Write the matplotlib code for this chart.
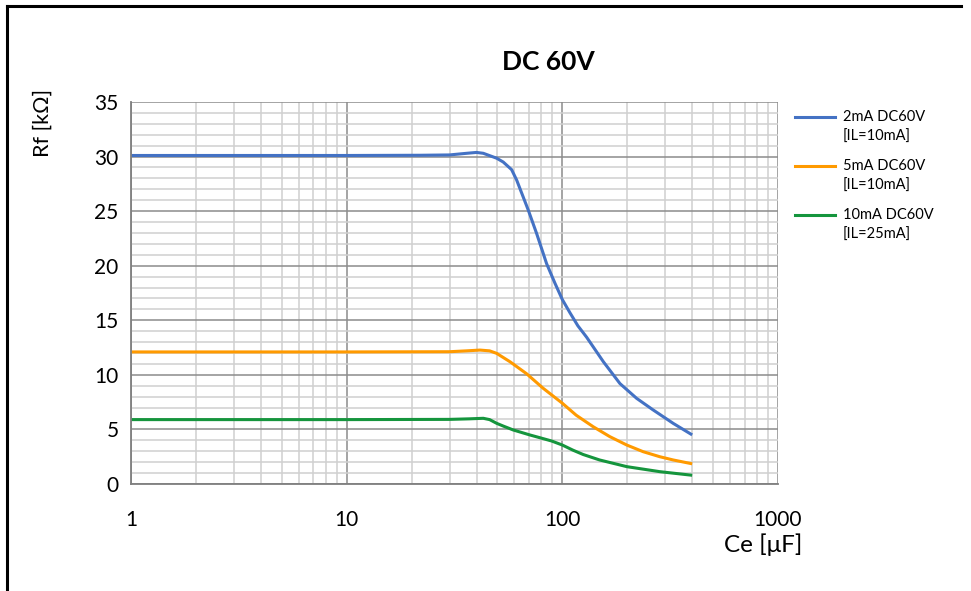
import matplotlib
matplotlib.use("Agg")
import matplotlib.pyplot as plt
from matplotlib.lines import Line2D
from matplotlib.ticker import FixedLocator, NullFormatter

plt.rcParams['font.family'] = ['Lato', 'DejaVu Sans']

# ---- data ----
ce_blue = [1, 10, 22, 30, 36, 40, 43, 49.6, 53.2, 58.2, 61.4, 69.5, 76, 84.5, 92.4,
           100, 108.4, 118, 129.6, 155, 185, 221, 263, 327, 400]
rf_blue = [30.1, 30.1, 30.12, 30.15, 30.3, 30.38, 30.3, 29.85, 29.5, 28.8, 27.85, 25.1,
           22.95, 20.2, 18.4, 16.9, 15.7, 14.5, 13.45, 11.2, 9.2, 7.85, 6.8, 5.55, 4.5]

ce_orange = [1, 10, 30, 36, 41.5, 46, 49.6, 57.2, 68.3, 81.5, 100, 116, 139, 166, 199,
             237, 283, 327, 400]
rf_orange = [12.1, 12.1, 12.12, 12.2, 12.27, 12.2, 11.97, 11.2, 10.1, 8.77, 7.4, 6.3,
             5.25, 4.34, 3.57, 2.96, 2.5, 2.2, 1.85]

ce_green = [1, 10, 30, 37, 43, 46, 49.6, 53.2, 59.2, 70.8, 78.7, 89.2, 100, 112, 125, 149,
            199, 283, 400]
rf_green = [5.9, 5.9, 5.92, 5.97, 6.02, 5.9, 5.56, 5.31, 4.95, 4.49, 4.24, 3.94, 3.57,
            3.1, 2.7, 2.2, 1.59, 1.13, 0.8]

series_labels = ["2mA DC60V\n[IL=10mA]", "5mA DC60V\n[IL=10mA]", "10mA DC60V\n[IL=25mA]"]
series_colors = ["#4472C4", "#FF9A00", "#15953D"]

x_ticks = [1, 10, 100, 1000]
x_tick_labels = ["1", "10", "100", "1000"]
y_ticks = [0, 5, 10, 15, 20, 25, 30, 35]

title = "DC 60V"
ylabel = "Rf [kΩ]"
xlabel = "Ce [μF]"

# ---- figure ----
W, H = 971, 591
fig = plt.figure(figsize=(W / 100, H / 100), dpi=100)
fig.patch.set_facecolor("white")

def fx(px):
    return px / W

def fy(py):
    return 1 - py / H

ax = fig.add_axes([fx(131), fy(484), fx(778) - fx(131), fy(102) - fy(484)])
ax.set_xscale("log")
ax.set_xlim(1, 1000)
ax.set_ylim(0, 35)

# grid
ax.set_xticks(x_ticks)
ax.set_xticklabels(x_tick_labels)
minor_x = [m * 10 ** d for d in range(3) for m in range(2, 10)]
ax.xaxis.set_minor_locator(FixedLocator(minor_x))
ax.xaxis.set_minor_formatter(NullFormatter())
ax.set_yticks(y_ticks)
ax.yaxis.set_minor_locator(FixedLocator([v for v in range(0, 36) if v % 5]))
ax.grid(which="minor", color="#D0D0D0", linewidth=1.1)
ax.grid(which="major", color="#8C8C8C", linewidth=1.1)
ax.set_axisbelow(True)

for s in ["top", "right"]:
    ax.spines[s].set_visible(False)
for s in ["left", "bottom"]:
    ax.spines[s].set_color("#7F7F7F")
    ax.spines[s].set_linewidth(1.3)

ax.tick_params(which="both", length=0)
ax.tick_params(axis="y", labelsize=15, pad=9, colors="black")
ax.tick_params(axis="x", labelsize=15, pad=19, colors="black")

data = [(ce_blue, rf_blue), (ce_orange, rf_orange), (ce_green, rf_green)]
for (xs, ys), c in zip(data, series_colors):
    ax.plot(xs, ys, color=c, linewidth=2.2, solid_capstyle="butt",
            solid_joinstyle="round", clip_on=False)

# title and labels
fig.text(fx(548), fy(62), title, ha="center", va="center", fontsize=19, fontweight="bold")
fig.text(fx(43), fy(123), ylabel, ha="center", va="center", rotation=90, fontsize=15.5)
fig.text(fx(802), fy(545), xlabel, ha="right", va="center", fontsize=17.5)

# legend (manual, handle aligned with first text line)
for i, (lab, c) in enumerate(zip(series_labels, series_colors)):
    y0 = 117 + i * 49
    fig.add_artist(Line2D([fx(795), fx(835)], [fy(y0), fy(y0)], color=c, linewidth=2.2,
                          transform=fig.transFigure))
    l1, l2 = lab.split("\n")
    fig.text(fx(843), fy(y0), l1, ha="left", va="center", fontsize=10.5)
    fig.text(fx(843), fy(y0 + 20), l2, ha="left", va="center", fontsize=10.5)

# outer frame (top and left edges)
fig.add_artist(Line2D([fx(7), fx(961)], [fy(6), fy(6)], color="black", linewidth=2.2,
                      transform=fig.transFigure))
fig.add_artist(Line2D([fx(7), fx(7)], [fy(6), fy(595)], color="black", linewidth=2.2,
                      transform=fig.transFigure))

fig.savefig("out.png", dpi=100)
